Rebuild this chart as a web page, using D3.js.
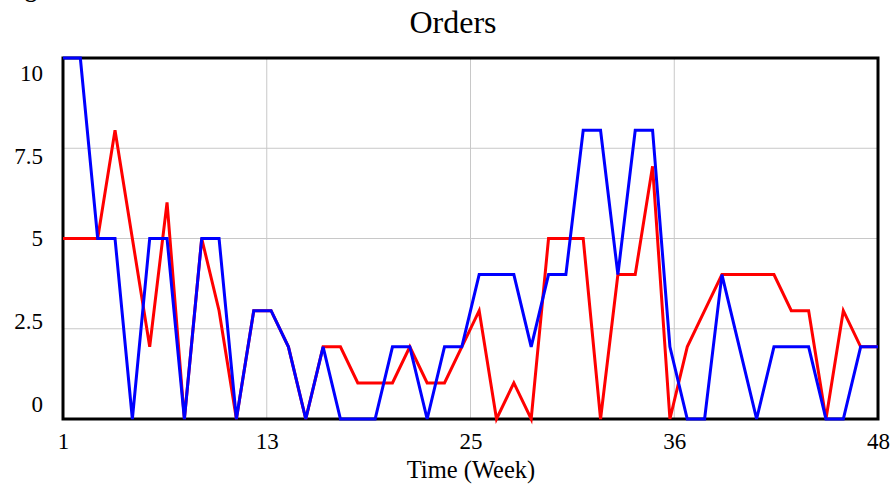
<!DOCTYPE html>
<html>
<head>
<meta charset="utf-8">
<script src="https://cdn.jsdelivr.net/npm/d3@7"></script>
<style>
  body { margin: 0; background: #fff; }
  text { font-family: "Liberation Serif", "DejaVu Serif", serif; fill: #000; }
</style>
</head>
<body>
<div id="chart"></div>
<script>
var weeks = [1, 2, 3, 4, 5, 6, 7, 8, 9, 10, 11, 12, 13, 14, 15, 16, 17, 18, 19, 20, 21, 22, 23, 24,
             25, 26, 27, 28, 29, 30, 31, 32, 33, 34, 35, 36, 37, 38, 39, 40, 41, 42, 43, 44, 45, 46, 47, 48];

// red series
var ordersRed = [5, 5, 5, 8, 5, 2, 6, 0, 5, 3, 0, 3, 3, 2, 0, 2, 2, 1, 1, 1, 2, 1, 1, 2,
                 3, 0, 1, 0, 5, 5, 5, 0, 4, 4, 7, 0, 2, 3, 4, 4, 4, 4, 3, 3, 0, 3, 2, 2];

// blue series
var ordersBlue = [10, 10, 5, 5, 0, 5, 5, 0, 5, 5, 0, 3, 3, 2, 0, 2, 0, 0, 0, 2, 2, 0, 2, 2,
                  4, 4, 4, 2, 4, 4, 8, 8, 4, 8, 8, 2, 0, 0, 4, 2, 0, 2, 2, 2, 0, 0, 2, 2];

var xTicks = [1, 12.75, 24.5, 36.25, 48];
var yTicks = [0, 2.5, 5, 7.5, 10];

var serif = '"Liberation Serif", "DejaVu Serif", serif';

var margin = { top: 58, right: 17, bottom: 71, left: 63 };
var width = 895 - margin.left - margin.right,
    height = 490 - margin.top - margin.bottom;

var svg = d3.select("#chart").append("svg")
  .attr("width", 895)
  .attr("height", 490);

svg.append("rect")
  .attr("width", 895)
  .attr("height", 490)
  .attr("fill", "#fff");

// clipped label fragment at very top
svg.append("text")
  .attr("x", 25)
  .attr("y", -3)
  .attr("font-size", 24)
  .attr("font-weight", "bold")
  .attr("font-family", serif)
  .text("g");

svg.append("text")
  .attr("x", 453)
  .attr("y", 33)
  .attr("text-anchor", "middle")
  .attr("font-size", 32)
  .attr("font-family", serif)
  .text("Orders");

var g = svg.append("g")
  .attr("transform", "translate(" + margin.left + "," + margin.top + ")");

var x = d3.scaleLinear().domain([1, 48]).range([0, width]);
var y = d3.scaleLinear().domain([0, 10]).range([height, 0]);
// labels on the y axis sit inset from the ends
var yLabel = d3.scaleLinear().domain([0, 10]).range([height - 15, 15]);

// grid
g.append("g")
  .selectAll("line")
  .data(xTicks.slice(1, -1))
  .enter().append("line")
  .attr("x1", function (d) { return x(d); })
  .attr("x2", function (d) { return x(d); })
  .attr("y1", 0)
  .attr("y2", height)
  .attr("stroke", "#c8c8c8")
  .attr("stroke-width", 1);

g.append("g")
  .selectAll("line")
  .data(yTicks.slice(1, -1))
  .enter().append("line")
  .attr("x1", 0)
  .attr("x2", width)
  .attr("y1", function (d) { return y(d); })
  .attr("y2", function (d) { return y(d); })
  .attr("stroke", "#c8c8c8")
  .attr("stroke-width", 1);

// frame
g.append("rect")
  .attr("width", width)
  .attr("height", height)
  .attr("fill", "none")
  .attr("stroke", "#000")
  .attr("stroke-width", 3);

// axes labels
var xAxis = g.append("g")
  .attr("transform", "translate(0," + height + ")")
  .call(d3.axisBottom(x)
    .tickValues(xTicks)
    .tickFormat(function (d) { return Math.round(d); })
    .tickSize(0)
    .tickPadding(14));
xAxis.attr("font-family", serif).attr("font-size", 23);
xAxis.select(".domain").remove();
xAxis.selectAll("text").attr("fill", "#000");

var yAxis = g.append("g")
  .call(d3.axisLeft(yLabel)
    .tickValues(yTicks)
    .tickFormat(function (d) { return d; })
    .tickSize(0)
    .tickPadding(20));
yAxis.attr("font-family", serif).attr("font-size", 23);
yAxis.select(".domain").remove();
yAxis.selectAll("text").attr("fill", "#000");

svg.append("text")
  .attr("x", 471)
  .attr("y", 478)
  .attr("text-anchor", "middle")
  .attr("font-size", 24.5)
  .attr("font-family", serif)
  .text("Time (Week)");

// lines
var line = function (values) {
  return d3.line()
    .x(function (d, i) { return x(weeks[i]); })
    .y(function (d) { return y(d); })(values);
};

g.append("path")
  .attr("d", line(ordersRed))
  .attr("fill", "none")
  .attr("stroke", "#ff0000")
  .attr("stroke-width", 3);

g.append("path")
  .attr("d", line(ordersBlue))
  .attr("fill", "none")
  .attr("stroke", "#0000ff")
  .attr("stroke-width", 3);
</script>
</body>
</html>
